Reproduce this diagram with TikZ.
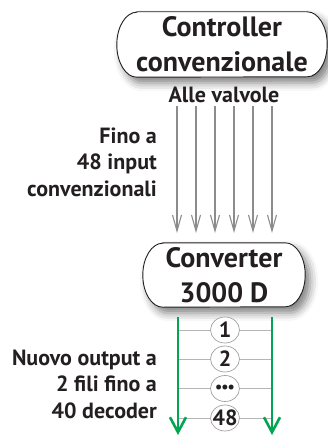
\documentclass[tikz,border=0pt]{standalone}
\usepackage{fontspec}
\setmainfont{PT Sans}
\usetikzlibrary{arrows.meta,shapes.geometric,shadows.blur,backgrounds}
\definecolor{ink}{HTML}{231F20}
\definecolor{wire}{HTML}{00A651}
\definecolor{pipe}{HTML}{8C8C8C}
\definecolor{rungc}{HTML}{B5B5B5}
\definecolor{ringc}{HTML}{A0A0A0}
\begin{document}
\begin{tikzpicture}[x=1pt,y=-1pt,
  boxtext/.style={font=\fontsize{28}{35}\selectfont\bfseries, text=ink, align=center, inner sep=0pt},
  sidelabel/.style={font=\fontsize{22}{26.5}\selectfont\bfseries, text=ink, align=right, anchor=east, inner sep=0pt},
  pill/.style={draw=ink, line width=0.9pt, fill=white,
    blur shadow={shadow xshift=5pt, shadow yshift=-6pt, shadow blur radius=8pt, shadow opacity=50}},
  pipearrow/.style={draw=pipe, line width=1.1pt, -{Straight Barb[length=16pt,width=9pt,line width=1.1pt]}},
  wirearrow/.style={draw=wire, line width=2.6pt, -{Straight Barb[length=15pt,width=16pt,line width=2.6pt]}},
  rung/.style={draw=rungc, line width=0.8pt},
  ring/.style={ellipse, draw=ringc, line width=0.7pt, fill=white, minimum width=29pt, minimum height=26pt, inner sep=-6pt,
    font=\fontsize{22}{22}\selectfont\bfseries, text=ink}
]
\useasboundingbox (0,0) rectangle (328,436);

% Controller box
\node[boxtext, minimum width=210pt, minimum height=65pt] (ctrl) at (222,44.5) {Controller\\convenzionale};
\begin{scope}[on background layer]
\draw[pill] ([xshift=20pt]ctrl.north west) -- ([xshift=-20pt]ctrl.north east)
  arc[start angle=90, end angle=-90, x radius=20pt, y radius=32.5pt]
  -- ([xshift=20pt]ctrl.south west)
  arc[start angle=270, end angle=90, x radius=20pt, y radius=32.5pt] -- cycle;
\end{scope}

\node[font=\fontsize{22}{26}\selectfont\bfseries, text=ink, inner sep=0pt] (valv) at (224,95) {Alle valvole};

\node[sidelabel] (fino) at (157,162) {Fino a\\48 input\\convenzionali};

% gray arrows
\foreach \i in {0,...,5}{
  \coordinate (s\i) at (177+19*\i,106);
  \coordinate (e\i) at (177+19*\i,233);
  \draw[pipearrow] (s\i) -- (e\i);
}

% Converter box
\node[boxtext, minimum width=162pt, minimum height=64pt] (conv) at (224,275) {Converter\\3000 D};
\begin{scope}[on background layer]
\draw[pill] ([xshift=20pt]conv.north west) -- ([xshift=-20pt]conv.north east)
  arc[start angle=90, end angle=-90, x radius=20pt, y radius=32pt]
  -- ([xshift=20pt]conv.south west)
  arc[start angle=270, end angle=90, x radius=20pt, y radius=32pt] -- cycle;
\end{scope}

\node[sidelabel] (nuovo) at (157,384) {Nuovo output a\\2 fili fino a\\40 decoder};

% rungs
\coordinate (lt) at (178,317); \coordinate (lb) at (178,435);
\coordinate (rt) at (272,317); \coordinate (rb) at (272,435);
\foreach \y/\k in {330/1, 359/2, 388.5/3, 418/4}{
  \coordinate (ra\k) at (178,\y);
  \coordinate (rb\k) at (272,\y);
  \draw[rung] (ra\k) -- (rb\k);
}
\node[ring] (d1) at (225,330) {1};
\node[ring] (d2) at (225,359) {2};
\node[ring] (d3) at (225,388.5) {\fontsize{16}{16}\selectfont•\kern-1pt•\kern-1pt•};
\node[ring] (d4) at (225,418) {48};
\draw[wirearrow] (lt) -- (lb);
\draw[wirearrow] (rt) -- (rb);
\end{tikzpicture}
\end{document}
